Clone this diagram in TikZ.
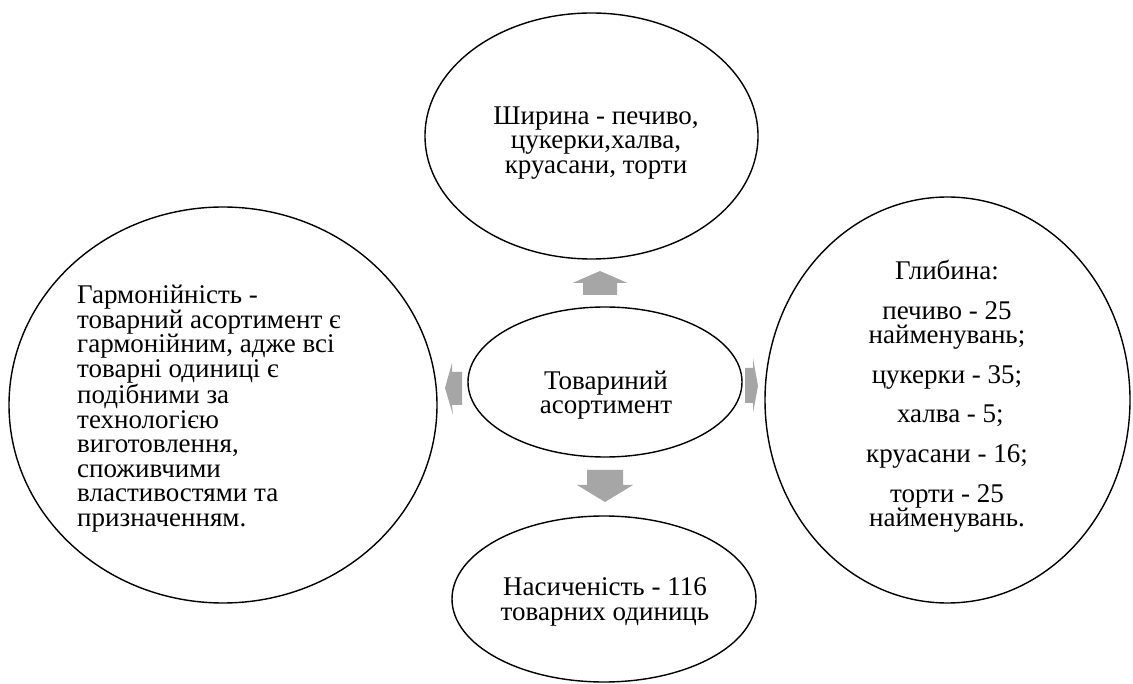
\documentclass[tikz,border=0pt]{standalone}
\usepackage{fontspec}
\setmainfont{Liberation Serif}
\usetikzlibrary{shapes.geometric}
\definecolor{arrowgray}{HTML}{A6A6A6}
\tikzset{
  oval/.style={ellipse, draw=black, line width=1.4pt, inner sep=0pt},
  txt/.style={inner sep=0pt, font=\fontsize{27pt}{24.6pt}\selectfont, text=black},
  blockarrow/.style={fill=arrowgray, draw=none}
}
\begin{document}
\begin{tikzpicture}[x=1pt,y=-1pt]
\useasboundingbox[fill=white] (0,0) rectangle (1133,684);
% ellipses
\node[oval, minimum width=333pt, minimum height=246pt] (top) at (591.5,136) {};
\node[oval, minimum width=274pt, minimum height=150pt] (center) at (605,382) {};
\node[oval, minimum width=304pt, minimum height=166pt] (bottom) at (604,599) {};
\node[oval, minimum width=428pt, minimum height=396pt] (left) at (223,405) {};
\node[oval, minimum width=365pt, minimum height=406pt] (right) at (947.5,400) {};
% texts
\node[txt, align=center] (toptxt) at (596,143) {Ширина - печиво,\\цукерки,халва,\\круасани, торти};
\node[txt, align=center] (centertxt) at (606,395) {Товариний\\асортимент};
\node[txt, align=center] (bottomtxt) at (605,602) {Насиченість - 116\\товарних одиниць};
\node[txt, align=left, anchor=north west] (lefttxt) at (77,285) {Гармонійність -\\товарний асортимент є\\гармонійним, адже всі\\товарні одиниці є\\подібними за\\технологією\\виготовлення,\\споживчими\\властивостями та\\призначенням.};
\node[txt, align=center, anchor=north] (righttxt) at (947,260) {Глибина:\\[15pt]печиво - 25\\найменувань;\\[15pt]цукерки - 35;\\[15pt]\ халва - 5;\\[15pt]круасани - 16;\\[15pt]торти - 25\\найменувань.};
% block arrows
\coordinate (upTip) at (600,271);
\fill[blockarrow] (upTip) -- ++(27.5,12) -- ++(-10.5,0) -- ++(0,12) -- ++(-34,0) -- ++(0,-12) -- ++(-10.5,0) -- cycle;
\coordinate (downTip) at (605,502);
\fill[blockarrow] (downTip) -- ++(28,-17) -- ++(-10,0) -- ++(0,-15) -- ++(-36,0) -- ++(0,15) -- ++(-10,0) -- cycle;
\coordinate (leftTip) at (445,388);
\fill[blockarrow] (leftTip) -- ++(7,-25) -- ++(0,9) -- ++(10,0) -- ++(0,33) -- ++(-10,0) -- ++(1,10) -- cycle;
\coordinate (rightTip) at (758,386);
\fill[blockarrow] (rightTip) -- ++(-5,-28) -- ++(0,10) -- ++(-8,0) -- ++(0,35) -- ++(8,0) -- ++(0,10) -- cycle;
\end{tikzpicture}
\end{document}
